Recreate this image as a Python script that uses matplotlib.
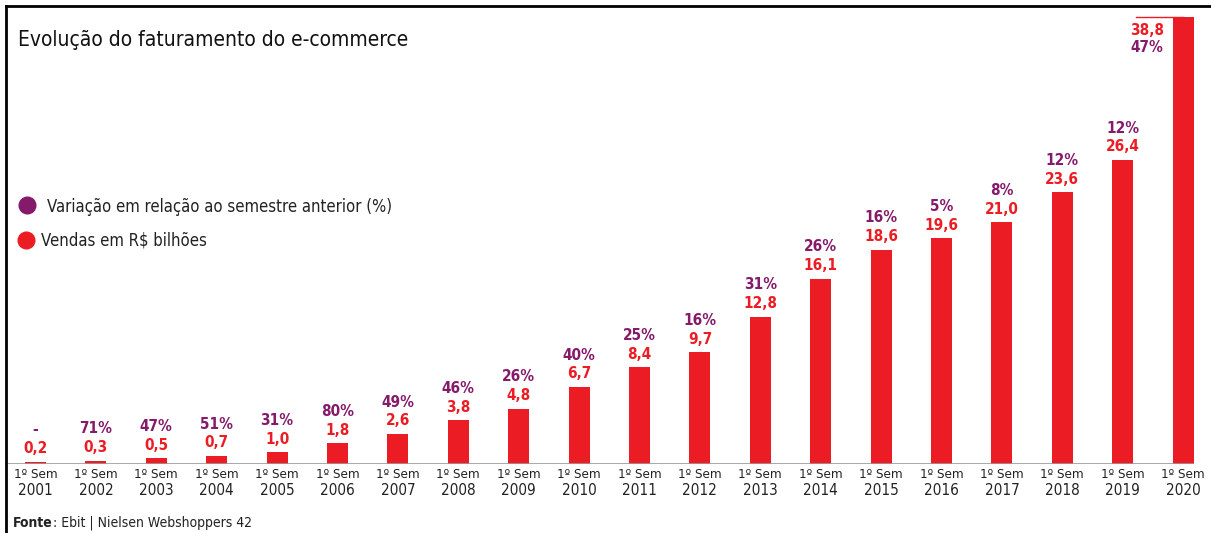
import matplotlib
matplotlib.use("Agg")
import matplotlib.pyplot as plt
from matplotlib.lines import Line2D

plt.rcParams['font.family'] = ['DejaVu Sans']
plt.rcParams['font.stretch'] = 'condensed'

anos = ['2001', '2002', '2003', '2004', '2005', '2006', '2007', '2008', '2009', '2010',
        '2011', '2012', '2013', '2014', '2015', '2016', '2017', '2018', '2019', '2020']
vendas = [0.2, 0.3, 0.5, 0.7, 1.0, 1.8, 2.6, 3.8, 4.8, 6.7,
          8.4, 9.7, 12.8, 16.1, 18.6, 19.6, 21.0, 23.6, 26.4, 38.8]
variacao = ['-', '71%', '47%', '51%', '31%', '80%', '49%', '46%', '26%', '40%',
            '25%', '16%', '31%', '26%', '16%', '5%', '8%', '12%', '12%', '47%']

VERMELHO = '#ec1c24'
ROXO = '#861a6a'

W, H = 1211, 533
fig = plt.figure(figsize=(W / 100, H / 100), dpi=100)
fig.patch.set_facecolor('white')

# eixo ocupa toda a largura; base em y=464px e topo (38,8) em y=17px
ax = fig.add_axes([0, (H - 464) / H, 1, 447 / H])
passo = 60.4
ax.set_xlim(-35.5 / passo, (W - 35.5) / passo)
ax.set_ylim(0, max(vendas))
ax.axis('off')

x = list(range(len(anos)))
ax.bar(x, vendas, width=21 / passo, color=VERMELHO, zorder=2)
ax.axhline(0, xmin=6 / W, xmax=1193 / W, color='#9a9a9a', lw=1.2, zorder=3)

# rótulos de valor e variação acima das barras
for i, (v, p) in enumerate(zip(vendas, variacao)):
    if i == len(anos) - 1:
        continue
    ax.annotate(f'{v:.1f}'.replace('.', ','), (i, v), xytext=(0, 4),
                textcoords='offset points', ha='center', va='bottom',
                color=VERMELHO, fontsize=11, fontweight='bold')
    ax.annotate(p, (i, v), xytext=(0, 17.5), textcoords='offset points',
                ha='center', va='bottom', color=ROXO, fontsize=11, fontweight='bold')

# última barra: rótulos ao lado esquerdo, no topo
ult = len(anos) - 1
ax.plot([ult - 0.78, ult], [vendas[ult], vendas[ult]], color=VERMELHO, lw=1, clip_on=False)
ax.annotate(f'{vendas[ult]:.1f}'.replace('.', ','), (ult, vendas[ult]), xytext=(-14, -10),
            textcoords='offset points', ha='right', va='center',
            color=VERMELHO, fontsize=11, fontweight='bold')
ax.annotate(variacao[ult], (ult, vendas[ult]), xytext=(-14, -22),
            textcoords='offset points', ha='right', va='center',
            color=ROXO, fontsize=11, fontweight='bold')

# rótulos do eixo x
for i, a in enumerate(anos):
    ax.text(i, -10 / 11.52, '1º Sem', ha='center', va='center', fontsize=9.5, color='#222222')
    ax.text(i, -26 / 11.52, a, ha='center', va='center', fontsize=11, color='#222222')

# moldura
fig.add_artist(Line2D([6 / W, 6 / W], [0, 1 - 6 / H], color='black', lw=2, transform=fig.transFigure))
fig.add_artist(Line2D([6 / W, 1], [1 - 6 / H, 1 - 6 / H], color='black', lw=2, transform=fig.transFigure))

fig.text(18 / W, 1 - 40 / H, 'Evolução do faturamento do e-commerce', ha='left', va='center',
         fontsize=15, color='#111111')

# legenda
fig.add_artist(Line2D([27 / W], [1 - 205 / H], marker='o', markersize=12, color=ROXO,
                      transform=fig.transFigure))
fig.text(47 / W, 1 - 207 / H, 'Variação em relação ao semestre anterior (%)', ha='left',
         va='center', fontsize=12, color='#222222')
fig.add_artist(Line2D([26 / W], [1 - 240 / H], marker='o', markersize=12, color=VERMELHO,
                      transform=fig.transFigure))
fig.text(41 / W, 1 - 241 / H, 'Vendas em R$ bilhões', ha='left', va='center',
         fontsize=12, color='#222222')

fonte = fig.text(13 / W, 1 - 523 / H, 'Fonte', ha='left', va='center', fontsize=10,
                 fontweight='bold', color='#222222')
ax.annotate(': Ebit | Nielsen Webshoppers 42', xy=(1, 0.5), xycoords=fonte,
            ha='left', va='center', fontsize=10, color='#222222', annotation_clip=False)

fig.savefig('out.png', dpi=100)
